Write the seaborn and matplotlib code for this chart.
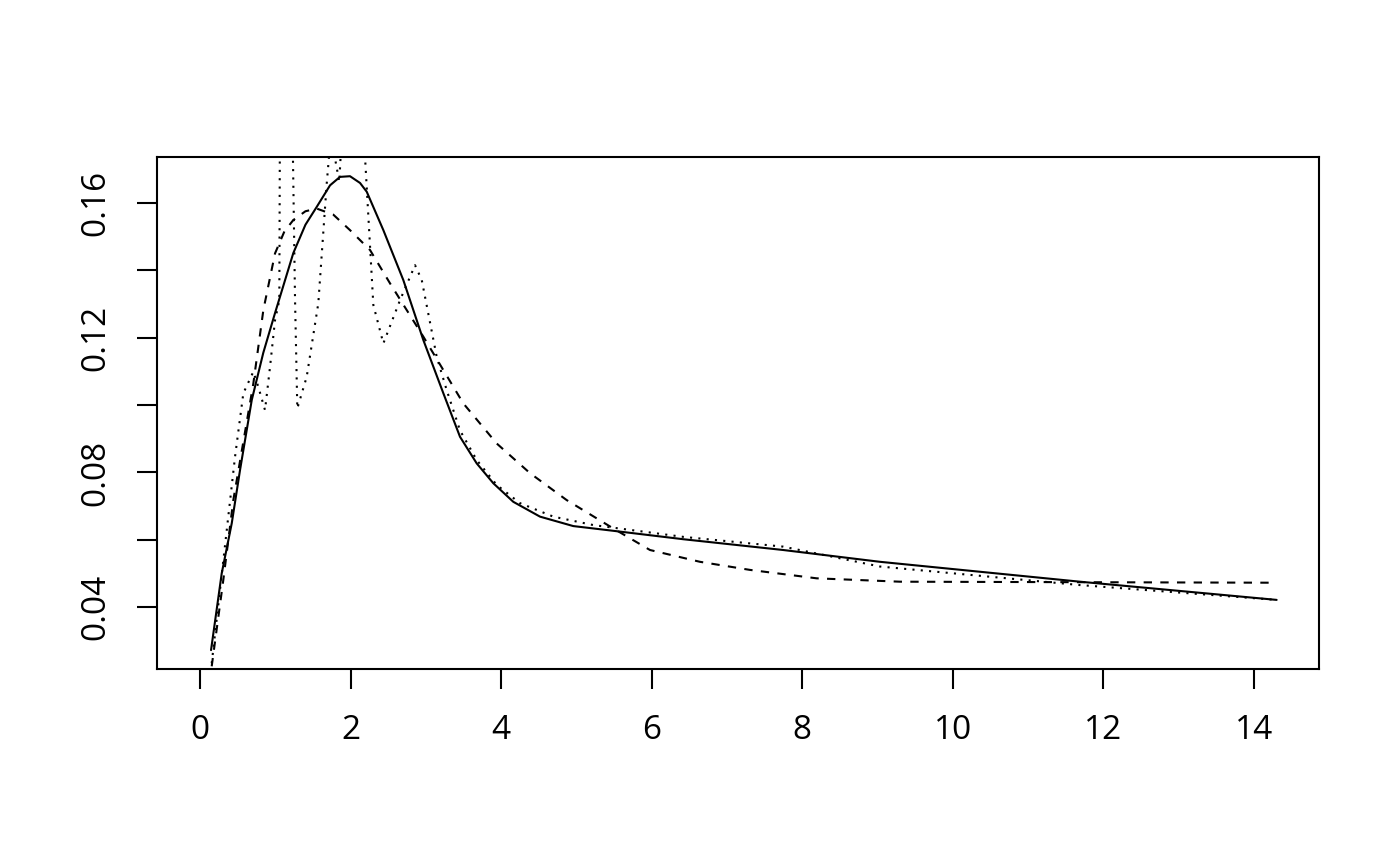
import numpy as np
import pandas as pd
import seaborn as sns
import matplotlib
matplotlib.use("Agg")
import matplotlib.pyplot as plt

# solid curve
x_solid = [0.146, 0.288, 0.421, 0.531, 0.687, 0.840, 0.996, 1.239, 1.400,
           1.550, 1.727, 1.859, 1.992, 2.125, 2.214, 2.435, 2.700, 2.966,
           3.232, 3.453, 3.675, 3.896, 4.161, 4.516, 4.958, 5.489, 6.419,
           7.747, 9.032, 11.688, 14.301]
y_solid = [0.0273, 0.0501, 0.0649, 0.0807, 0.1015, 0.1155, 0.1273, 0.1451,
           0.1535, 0.1588, 0.1652, 0.1677, 0.1679, 0.1659, 0.1633, 0.1519,
           0.1371, 0.1193, 0.1035, 0.0906, 0.0827, 0.0768, 0.0713, 0.0669,
           0.0641, 0.0627, 0.0602, 0.0570, 0.0535, 0.0476, 0.0422]

# dashed curve
x_dashed = [0.155, 0.309, 0.442, 0.708, 0.841, 0.996, 1.120, 1.239, 1.400,
            1.550, 1.770, 1.992, 2.258, 2.524, 2.966, 3.497, 3.941, 4.383,
            4.871, 5.489, 5.977, 6.641, 7.305, 8.191, 9.298, 14.212]
y_dashed = [0.0225, 0.0481, 0.0718, 0.1064, 0.1282, 0.1450, 0.1515, 0.1549,
            0.1575, 0.1583, 0.1565, 0.1519, 0.1460, 0.1361, 0.1203, 0.1005,
            0.0886, 0.0798, 0.0718, 0.0634, 0.0570, 0.0535, 0.0511, 0.0486,
            0.0476, 0.0473]

# dotted curve (peaks go above the top of the plot and get clipped)
x_dotted = [0.155, 0.465, 0.575, 0.708, 0.774, 0.863, 0.930, 0.996, 1.053,
            1.065, 1.210, 1.262, 1.292, 1.417, 1.571, 1.683, 1.737, 1.850,
            1.950, 2.100, 2.302, 2.435, 2.656, 2.856, 2.945, 3.144, 3.277,
            3.453, 3.675, 3.941, 4.250, 4.693, 5.224, 6.419, 7.747, 9.032,
            11.688, 14.301]
y_dotted = [0.0234, 0.0847, 0.1035, 0.1099, 0.1054, 0.0985, 0.1114, 0.1252,
            0.1311, 0.2100, 0.2100, 0.1311, 0.0990, 0.1084, 0.1302, 0.1658,
            0.1800, 0.1662, 0.2100, 0.2100, 0.1297, 0.1183, 0.1311, 0.1415,
            0.1371, 0.1143, 0.1044, 0.0925, 0.0837, 0.0763, 0.0709, 0.0669,
            0.0644, 0.0609, 0.0580, 0.0521, 0.0466, 0.0422]

x_ticks = [0, 2, 4, 6, 8, 10, 12, 14]
y_ticks = [0.04, 0.06, 0.08, 0.10, 0.12, 0.14, 0.16]
y_ticklabels = ["0.04", "", "0.08", "", "0.12", "", "0.16"]

sns.set_style("white")
plt.rcParams['font.family'] = ['Open Sans', 'DejaVu Sans']
plt.rcParams['font.size'] = 12
plt.rcParams['text.color'] = 'black'
plt.rcParams['xtick.color'] = 'black'
plt.rcParams['ytick.color'] = 'black'
plt.rcParams['xtick.labelcolor'] = 'black'
plt.rcParams['ytick.labelcolor'] = 'black'

fig = plt.figure(figsize=(7, 4.33), dpi=200)
ax = fig.add_axes([0.1124, 0.2271, 0.8297, 0.5920])

lw = 0.75
sns.lineplot(x=x_solid, y=y_solid, ax=ax, color='black', lw=lw)
sns.lineplot(x=x_dashed, y=y_dashed, ax=ax, color='black', lw=lw,
             linestyle=(0, (4, 4)))
sns.lineplot(x=x_dotted, y=y_dotted, ax=ax, color='black', lw=lw,
             linestyle=(0, (1, 3)))

ax.set_xlim(-0.567, 14.863)
ax.set_ylim(0.0216, 0.1737)
ax.set_xticks(x_ticks)
ax.set_xticklabels([str(t) for t in x_ticks])
ax.set_yticks(y_ticks)
ax.set_yticklabels(y_ticklabels)

for side in ['top', 'bottom', 'left', 'right']:
    ax.spines[side].set_visible(True)
    ax.spines[side].set_color('black')
    ax.spines[side].set_linewidth(lw)

ax.tick_params(axis='both', direction='out', length=7.2, width=lw,
               color='black', labelcolor='black', labelsize=12, pad=9,
               bottom=True, left=True)
ax.tick_params(axis='y', labelrotation=90)
for lab in ax.get_yticklabels():
    lab.set_va('center')

ax.set_xlabel('')
ax.set_ylabel('')

fig.savefig('out.png', dpi=200)
